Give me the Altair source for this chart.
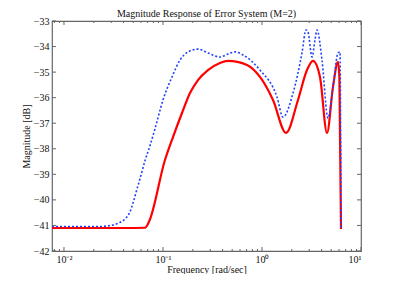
import altair as alt
import pandas as pd

# Red (solid) curve: frequency [rad/sec], magnitude [dB]
red_f = [0.00757, 0.02, 0.04, 0.0658, 0.0722, 0.1047, 0.1262, 0.1556, 0.1874, 0.2257,
         0.2847, 0.3765, 0.4535, 0.7055, 0.9546, 1.292, 1.748, 2.31, 2.848, 3.275,
         3.853, 4.535, 5.214, 5.857, 6.05, 6.283]
red_db = [-41.10, -41.10, -41.10, -41.09, -40.86, -38.44, -37.54, -36.60, -35.82, -35.31,
          -34.92, -34.64, -34.56, -34.72, -35.19, -36.09, -37.38, -36.09, -34.92, -34.56,
          -35.19, -37.38, -35.58, -34.60, -35.2, -41.14]

# Blue (dotted) curve
blue_f = [0.00757, 0.0231, 0.0313, 0.0368, 0.0413, 0.0464, 0.0498, 0.0546, 0.0586, 0.0658,
          0.0739, 0.0830, 0.1, 0.1233, 0.1485, 0.1788, 0.2257, 0.2847, 0.3765, 0.4535,
          0.5337, 0.6428, 0.9546, 1.417, 1.630, 2.057, 2.535, 2.783, 2.915, 3.2,
          3.431, 3.594, 4.037, 4.642, 5.214, 5.857, 6.136, 6.283]
blue_db = [-41.04, -41.04, -40.98, -40.88, -40.75, -40.47, -40.12, -39.58, -39.17, -38.47,
           -37.88, -37.22, -36.09, -35.19, -34.53, -34.21, -34.10, -34.25, -34.41, -34.29,
           -34.21, -34.33, -34.92, -35.97, -36.76, -35.82, -34.25, -33.35, -33.43, -34.41,
           -33.74, -33.35, -34.53, -36.80, -35.58, -34.25, -34.21, -41.14]

y_ticks = [-42, -41, -40, -39, -38, -37, -36, -35, -34, -33]
x_major = [0.01, 0.1, 1, 10]
x_minor = [m * d for d in [0.001, 0.01, 0.1, 1] for m in range(2, 10)]
x_minor = [v for v in x_minor if 0.00757 <= v <= 10]

X_DOMAIN = [0.00757, 10]
Y_DOMAIN = [-42, -33]
W, H = 309, 230
FONT = "Liberation Serif"

xs = alt.Scale(type="log", domain=X_DOMAIN, nice=False)
ys = alt.Scale(domain=Y_DOMAIN, nice=False, zero=False)

X_AXIS = alt.Axis(
    title="Frequency [rad/sec]", values=x_major, ticks=False, domain=False, grid=False,
    labelExpr="datum.value < 0.05 ? '10⁻²' : datum.value < 0.5 ? '10⁻¹' : datum.value < 5 ? '10⁰' : '10¹'",
    labelPadding=3, titlePadding=0, labelOverlap=False,
)
Y_AXIS = alt.Axis(
    title="Magnitude [dB]", values=y_ticks, ticks=False, domain=False, grid=False,
    format="d", labelPadding=3, titlePadding=2, labelOverlap=False,
)

def xe(field):
    return alt.X(field, scale=xs, axis=X_AXIS)

def ye(field):
    return alt.Y(field, scale=ys, axis=Y_AXIS)

red_df = pd.DataFrame({"f": red_f, "db": red_db})
blue_df = pd.DataFrame({"f": blue_f, "db": blue_db})

red = alt.Chart(red_df).mark_line(color="#ff0000", strokeWidth=2.2, interpolate="monotone").encode(
    x=xe("f:Q"), y=ye("db:Q")
)
blue = alt.Chart(blue_df).mark_line(
    color="#2040ff", strokeWidth=1.6, strokeDash=[2, 2], interpolate="monotone"
).encode(x=xe("f:Q"), y=ye("db:Q"))

yt_df = pd.DataFrame({"v": y_ticks})
xM_df = pd.DataFrame({"v": x_major})
xm_df = pd.DataFrame({"v": x_minor})
tick_color = "#666666"

yl = alt.Chart(yt_df).mark_rule(color=tick_color).encode(y=ye("v:Q"), x=alt.value(0), x2=alt.value(4))
yr = alt.Chart(yt_df).mark_rule(color=tick_color).encode(y=ye("v:Q"), x=alt.value(W - 4), x2=alt.value(W))
xMb = alt.Chart(xM_df).mark_rule(color=tick_color).encode(x=xe("v:Q"), y=alt.value(H), y2=alt.value(H - 4))
xMt = alt.Chart(xM_df).mark_rule(color=tick_color).encode(x=xe("v:Q"), y=alt.value(0), y2=alt.value(4))
xmb = alt.Chart(xm_df).mark_rule(color=tick_color).encode(x=xe("v:Q"), y=alt.value(H), y2=alt.value(H - 2))
xmt = alt.Chart(xm_df).mark_rule(color=tick_color).encode(x=xe("v:Q"), y=alt.value(0), y2=alt.value(2))

chart = alt.layer(red, blue, yl, yr, xMb, xMt, xmb, xmt).properties(
    width=W, height=H,
    title=alt.Title("Magnitude Response of Error System (M=2)", font=FONT, fontSize=10,
                    fontWeight="normal", color="#111111", offset=2, dy=5),
    autosize=alt.AutoSizeParams(type="none"),
    padding={"left": 44, "top": 13, "right": 28, "bottom": 23},
).configure_view(
    stroke="#666666", strokeWidth=1.2
).configure_axis(
    labelFont=FONT, titleFont=FONT, labelFontSize=10, titleFontSize=10,
    titleFontWeight="normal", labelColor="#111111", titleColor="#111111",
)

chart.save("out.html", embed_options={"renderer": "svg", "actions": False})
